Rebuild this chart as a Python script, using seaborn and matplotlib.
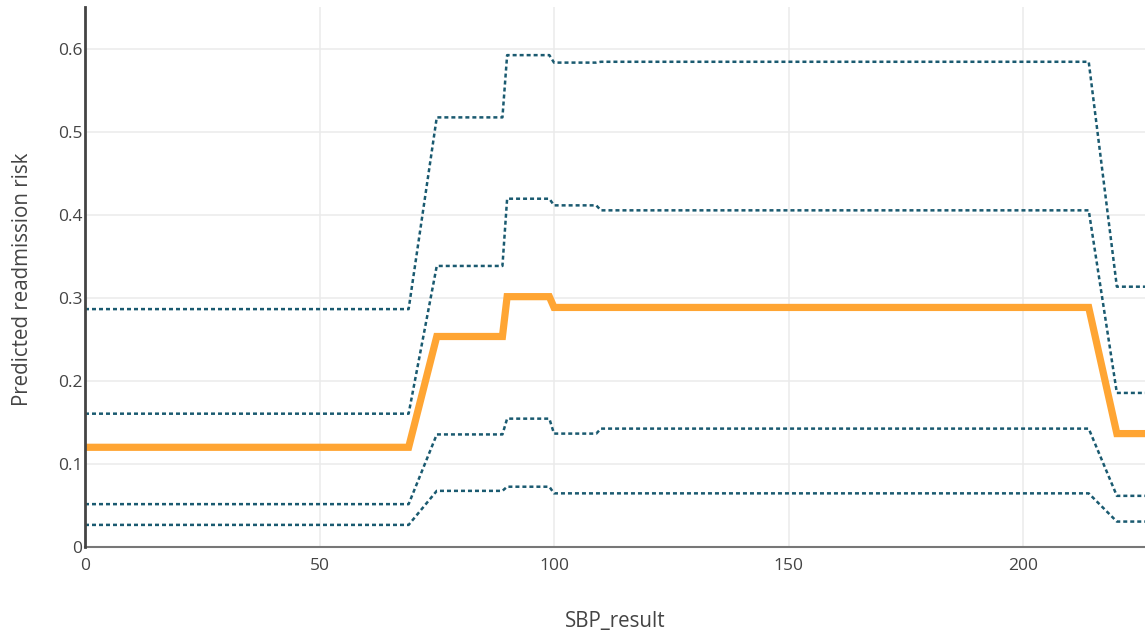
import pandas as pd
import matplotlib.pyplot as plt
import seaborn as sns

# grid of SBP values where the curves change slope
sbp = [0, 69, 75, 89, 90, 99, 100, 109, 110, 214, 220, 226]

# mean predicted risk
mean_risk = [0.1205, 0.1205, 0.254, 0.254, 0.302, 0.302, 0.289, 0.289, 0.289, 0.289, 0.137, 0.137]

# percentile curves (dotted)
p_upper = [0.287, 0.287, 0.518, 0.518, 0.593, 0.593, 0.584, 0.584, 0.585, 0.585, 0.314, 0.314]
p_high = [0.161, 0.161, 0.339, 0.339, 0.420, 0.420, 0.412, 0.412, 0.406, 0.406, 0.186, 0.186]
p_low = [0.052, 0.052, 0.136, 0.136, 0.155, 0.155, 0.137, 0.137, 0.143, 0.143, 0.062, 0.062]
p_lower = [0.027, 0.027, 0.068, 0.068, 0.073, 0.073, 0.065, 0.065, 0.065, 0.065, 0.031, 0.031]

x_ticks = [0, 50, 100, 150, 200]
y_ticks = [0, 0.1, 0.2, 0.3, 0.4, 0.5, 0.6]

sns.set_theme(style="whitegrid")
plt.rcParams['font.family'] = ['Open Sans', 'DejaVu Sans']

fig = plt.figure(figsize=(11.45, 6.37), dpi=100)
ax = fig.add_axes([85 / 1145, (637 - 547.3) / 637, 1060 / 1145, 540.3 / 637])
ax.set_facecolor('white')

teal = '#1a5a70'
for vals in [p_upper, p_high, p_low, p_lower]:
    sns.lineplot(x=sbp, y=vals, ax=ax, color=teal, linewidth=1.8,
                 linestyle=(0, (1.6, 1.2)))

sns.lineplot(x=sbp, y=mean_risk, ax=ax, color='#ffa533', linewidth=5.2,
             solid_joinstyle='miter', zorder=5)

ax.set_xlim(0, 226)
ax.set_ylim(0, 0.651)
ax.set_xticks(x_ticks)
ax.set_yticks(y_ticks)
ax.set_xticklabels([str(t) for t in x_ticks])
ax.set_yticklabels([f'{t:g}' for t in y_ticks])
ax.tick_params(axis='both', length=0, labelsize=12.5, colors='#444444')
ax.tick_params(axis='x', pad=8)
ax.tick_params(axis='y', pad=2)
ax.grid(True, color='#ebebeb', linewidth=1.1)

for side in ['top', 'right']:
    ax.spines[side].set_visible(False)
ax.spines['left'].set_color('#444444')
ax.spines['left'].set_linewidth(2)
ax.spines['bottom'].set_color('#777777')
ax.spines['bottom'].set_linewidth(1.5)
ax.spines['left'].set_zorder(6)

ax.set_xlabel('SBP_result', fontsize=14.8, color='#444444', va='center')
ax.set_ylabel('Predicted readmission risk', fontsize=14.8, color='#444444', va='center')
ax.xaxis.set_label_coords(0.5, (547.3 - 621) / 540.3)
ax.yaxis.set_label_coords((22 - 85) / 1060, 0.5 + (547.3 - 279 - 270.15) / 540.3)

fig.savefig('out.png', dpi=100)
